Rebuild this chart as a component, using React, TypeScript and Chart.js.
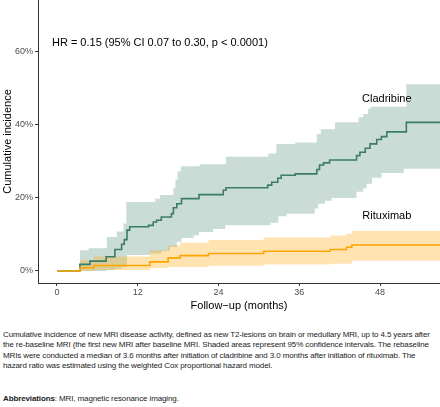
import React, { useEffect, useRef } from "react";
import { Chart, registerables } from "chart.js";

Chart.register(...registerables);

// Cladribine cumulative incidence (months, %)
const cladTimes = [0, 3.4, 4.9, 7.3, 8.6, 9.6, 10.0, 10.4, 10.8, 13.6, 14.3, 14.8, 15.5, 17.0, 17.3, 17.8, 18.5, 21.1, 24.7, 25.1, 31.3, 31.9, 32.8, 33.3, 35.4, 38.6, 39.0, 39.6, 40.5, 44.5, 45.0, 45.8, 46.5, 47.5, 48.2, 49.0, 51.9, 57];
const cladValues = [0, 1.8, 2.7, 3.9, 5.9, 7.3, 8.6, 11.2, 12.1, 12.5, 13.4, 13.9, 14.8, 15.7, 17.3, 18.4, 19.8, 20.9, 22.1, 22.8, 23.5, 24.3, 25.4, 26.2, 26.6, 27.8, 29.0, 29.6, 30.4, 31.6, 32.5, 33.6, 34.8, 36.0, 36.8, 38.1, 40.7, 40.7];

// Cladribine 95% CI
const cladUpperTimes = [3.4, 4.7, 7.4, 8.9, 9.9, 10.3, 14.6, 15.3, 17.3, 17.6, 17.9, 18.4, 21.2, 25.1, 31.4, 32.6, 35.4, 38.6, 39.2, 41.3, 44.8, 45.5, 46.2, 46.6, 51.9, 57];
const cladUpper = [5.7, 6.2, 9.3, 10.8, 13.0, 18.9, 19.8, 20.8, 22.8, 25.0, 27.3, 28.7, 29.2, 31.3, 32.2, 34.8, 35.2, 37.5, 38.8, 40.7, 42.1, 43.0, 44.4, 45.0, 51.1, 51.1];
const cladLowerTimes = [3.4, 7.3, 8.6, 9.6, 10.4, 13.8, 15.5, 16.8, 17.8, 18.5, 20.3, 21.1, 23.2, 25.0, 31.7, 32.9, 34.1, 38.3, 38.8, 39.8, 40.8, 44.5, 45.5, 46.0, 46.8, 48.2, 51.5, 57];
const cladLower = [0, 0.3, 0.6, 1.0, 4.4, 4.8, 5.5, 6.6, 8.0, 9.0, 9.8, 10.7, 11.5, 12.5, 13.2, 15.0, 15.7, 17.1, 18.4, 19.2, 20.0, 21.7, 22.6, 23.9, 25.5, 26.8, 28.0, 28.0];

// Rituximab cumulative incidence (months, %)
const ritTimes = [0, 3.4, 5.5, 13.8, 16.5, 18.3, 22.5, 30.7, 40.6, 43.0, 43.8, 57];
const ritValues = [0, 0.9, 1.5, 2.5, 3.6, 4.2, 4.8, 5.4, 5.9, 6.5, 7.1, 7.1];

// Rituximab 95% CI
const ritUpperTimes = [3.4, 5.5, 13.8, 16.5, 18.3, 22.5, 30.7, 40.6, 43.0, 43.8, 57];
const ritUpper = [3.0, 4.0, 5.7, 7.0, 7.7, 8.5, 9.2, 9.7, 10.2, 11.0, 11.0];
const ritLowerTimes = [3.4, 5.5, 13.8, 16.5, 22.5, 30.7, 40.6, 43.8, 57];
const ritLower = [0, 0.3, 0.8, 1.1, 1.4, 1.8, 2.0, 2.8, 2.8];

const xTicks = [0, 12, 24, 36, 48];
const yTicks = [0, 20, 40, 60];

const hrText = "HR = 0.15 (95% CI 0.07 to 0.30, p < 0.0001)";
const groupLabels = ["Cladribine", "Rituximab"];
const labelPos = [
  { x: 49.0, y: 47.2 },
  { x: 49.0, y: 15.0 },
];
const hrPos = { x: -0.75, y: 62.3 };

const FONT = "'Liberation Sans', Arial, Helvetica, sans-serif";

const pts = (t: number[], v: number[]) => t.map((x, i) => ({ x, y: v[i] }));

export default function App() {
  const ref = useRef<HTMLCanvasElement | null>(null);

  useEffect(() => {
    if (!ref.current) return;
    const labelsPlugin = {
      id: "labels",
      afterDatasetsDraw(chart: any) {
        const { ctx, scales } = chart;
        const xs = scales.x;
        const ys = scales.y;
        ctx.save();
        ctx.fillStyle = "#000";
        ctx.font = `11px ${FONT}`;
        ctx.textBaseline = "middle";
        ctx.textAlign = "left";
        ctx.fillText(hrText, xs.getPixelForValue(hrPos.x), ys.getPixelForValue(hrPos.y));
        ctx.textAlign = "center";
        groupLabels.forEach((l, i) => {
          ctx.fillText(l, xs.getPixelForValue(labelPos[i].x), ys.getPixelForValue(labelPos[i].y));
        });
        ctx.restore();
      },
    };

    // Chart.js "before" = horizontal first, then vertical (Kaplan-Meier style)
    const STEP = "before";

    const band = (t: number[], v: number[], color: string, fill: any) => ({
      data: pts(t, v),
      borderColor: "transparent",
      borderWidth: 0,
      backgroundColor: color,
      fill,
      stepped: STEP,
      pointRadius: 0,
    });

    // dataset 0 is drawn on top; later indices underneath
    const chart = new Chart(ref.current, {
      type: "line",
      data: {
        datasets: [
          {
            label: "Rituximab",
            data: pts(ritTimes, ritValues),
            borderColor: "#ffa500",
            borderWidth: 1.6,
            fill: false,
            stepped: STEP,
            pointRadius: 0,
          },
          {
            label: "Cladribine",
            data: pts(cladTimes, cladValues),
            borderColor: "#3b7d67",
            borderWidth: 1.6,
            fill: false,
            stepped: STEP,
            pointRadius: 0,
          },
          band(ritUpperTimes, ritUpper, "rgba(255,165,0,0.30)", "+1"),
          band(ritLowerTimes, ritLower, "transparent", false),
          band(cladUpperTimes, cladUpper, "rgba(61,128,104,0.28)", "+1"),
          band(cladLowerTimes, cladLower, "transparent", false),
        ] as any,
      },
      options: {
        animation: false,
        responsive: false,
        devicePixelRatio: 1,
        layout: { padding: 0 },
        plugins: {
          legend: { display: false },
          tooltip: { enabled: false },
        },
        scales: {
          x: {
            type: "linear",
            min: -2.82,
            max: 56.9,
            afterBuildTicks: (s: any) => {
              s.ticks = xTicks.map((v) => ({ value: v }));
            },
            afterFit: (s: any) => {
              s.height = 32;
              s.paddingLeft = 0;
              s.paddingRight = 0;
            },
            border: { display: true, color: "#333", width: 1 },
            grid: { display: true, drawOnChartArea: false, drawTicks: true, tickLength: 3, color: "#333" },
            ticks: { color: "#4d4d4d", font: { family: FONT, size: 9 }, padding: 1.5, maxRotation: 0 },
            title: {
              display: true,
              text: "Follow−up (months)",
              color: "#000",
              font: { family: FONT, size: 11 },
              padding: { top: 0, bottom: 2.5 },
            },
          },
          y: {
            type: "linear",
            min: -3.29,
            max: 74.2,
            afterBuildTicks: (s: any) => {
              s.ticks = yTicks.map((v) => ({ value: v }));
            },
            afterFit: (s: any) => {
              s.width = 38;
              s.paddingTop = 0;
              s.paddingBottom = 0;
            },
            border: { display: true, color: "#333", width: 1 },
            grid: { display: true, drawOnChartArea: false, drawTicks: true, tickLength: 3, color: "#333" },
            ticks: {
              color: "#4d4d4d",
              font: { family: FONT, size: 9 },
              padding: 2,
              callback: (v: any) => `${v}%`,
            },
            title: {
              display: true,
              text: "Cumulative incidence",
              color: "#000",
              font: { family: FONT, size: 11 },
              padding: { top: 1.5, bottom: 0 },
            },
          },
        },
      } as any,
      plugins: [labelsPlugin],
    });
    return () => chart.destroy();
  }, []);

  const captionLines = [
    "Cumulative incidence of new MRI disease activity, defined as new T2-lesions on brain or medullary MRI, up to 4.5 years after",
    "the re-baseline MRI (the first new MRI after baseline MRI. Shaded areas represent 95% confidence intervals. The rebaseline",
    "MRIs were conducted a median of 3.6 months after initiation of cladribine and 3.0 months after initiation of rituximab. The",
    "hazard ratio was estimated using the weighted Cox proportional hazard model.",
  ];

  const textStyle: React.CSSProperties = {
    position: "absolute",
    left: 3,
    fontSize: 8,
    letterSpacing: "-0.12px",
    lineHeight: "10.6px",
    color: "#222",
    whiteSpace: "nowrap",
  };

  return (
    <div
      style={{
        position: "fixed",
        left: 0,
        top: 0,
        width: 440,
        height: 407,
        background: "#fff",
        overflow: "hidden",
        fontFamily: FONT,
      }}
    >
      <canvas ref={ref} width={440} height={315} style={{ display: "block", width: 440, height: 315 }} />
      <div style={{ ...textStyle, top: 329.5 }}>
        {captionLines.map((l, i) => (
          <div key={i}>{l}</div>
        ))}
      </div>
      <div style={{ ...textStyle, top: 393.5 }}>
        <b>Abbreviations</b>: MRI, magnetic resonance imaging.
      </div>
    </div>
  );
}
